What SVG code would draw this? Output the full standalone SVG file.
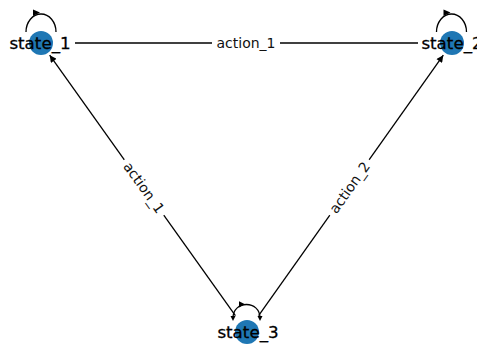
<svg xmlns="http://www.w3.org/2000/svg" width="477" height="347" viewBox="0 0 477 347">
<style>
.edge{stroke:#000;stroke-width:1.3;fill:none}
.head{fill:#000;stroke:none}
.node{fill:#1f77b4}
.nl{font-family:"DejaVu Sans",sans-serif;font-size:16.7px;fill:#000;stroke:#000;stroke-width:0.3;text-anchor:middle}
.el{font-family:"DejaVu Sans",sans-serif;font-size:14px;fill:#111;text-anchor:middle;dominant-baseline:central}
.bg{fill:#fff}
</style>
<defs>
<marker id="arr" viewBox="0 0 10 10" refX="10" refY="5" markerWidth="10" markerHeight="7" markerUnits="userSpaceOnUse" orient="auto">
<path d="M0,0 L10,5 L0,10 Z" fill="#000"/>
</marker>
</defs>
<rect width="477" height="347" fill="#fff"/>
<g id="connectors">
<line class="edge" x1="75" y1="43" x2="418" y2="43"/>
<line class="edge" x1="235.4" y1="315.7" x2="49.7" y2="55.2" marker-end="url(#arr)"/>
<line class="edge" x1="258.6" y1="315.7" x2="443.3" y2="55.2" marker-end="url(#arr)"/>
<path class="edge" d="M26,32 A15,18 0 0 1 56,32"/>
<path class="head" d="M40,12.6 L33,9.4 L33,16 Z"/>
<path class="edge" d="M436.5,32 A15,18 0 0 1 466.5,32"/>
<path class="head" d="M450.5,12.6 L443.5,9.4 L443.5,16 Z"/>
<path class="edge" d="M233,318 C233,300 260,300 260,318"/>
<path class="head" d="M245,304.3 L239,301.2 L239,307.6 Z"/>
<path class="head" d="M233,321 L230.5,316 L235.5,316 Z"/>
<path class="head" d="M260,321 L257.5,316 L262.5,316 Z"/>
<g>
<rect class="bg" x="212" y="34" width="68" height="19"/>
<text class="el" x="246" y="43">action_1</text>
</g>
<g transform="translate(144,187.5) rotate(54.5)">
<rect class="bg" x="-34" y="-9.5" width="68" height="19"/>
<text class="el" x="0" y="0">action_1</text>
</g>
<g transform="translate(349.5,187.5) rotate(-54.6)">
<rect class="bg" x="-34" y="-9.5" width="68" height="19"/>
<text class="el" x="0" y="0">action_2</text>
</g>
</g>
<g id="state_1">
<circle class="node" cx="41" cy="43" r="12"/>
<text class="nl" x="40" y="48.8">state_1</text>
</g>
<g id="state_2">
<circle class="node" cx="452" cy="43" r="12"/>
<text class="nl" x="452" y="48.8">state_2</text>
</g>
<g id="state_3">
<circle class="node" cx="247" cy="332" r="12"/>
<text class="nl" x="248" y="337.8">state_3</text>
</g>
</svg>
